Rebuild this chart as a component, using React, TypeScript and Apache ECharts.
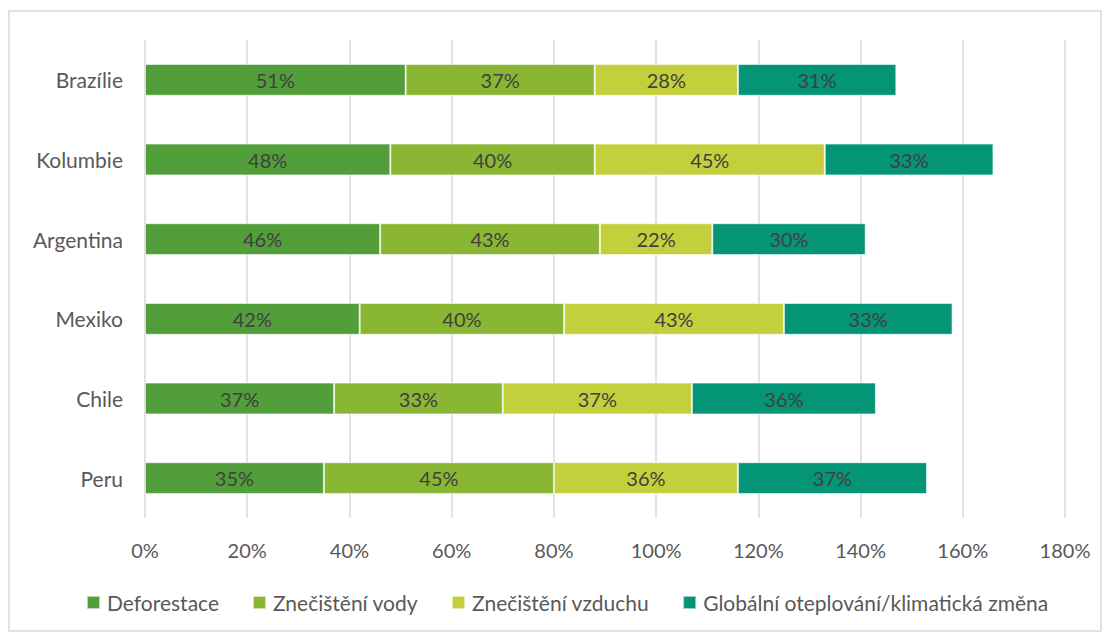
import React, { useEffect, useRef } from "react";
import * as echarts from "echarts";

const categories = ["Peru", "Chile", "Mexiko", "Argentina", "Kolumbie", "Brazílie"];
const seriesNames = ["Deforestace", "Znečištění vody", "Znečištění vzduchu", "Globální oteplování/klimatická změna"];
const deforestace = [35, 37, 42, 46, 48, 51];
const voda = [45, 33, 40, 43, 40, 37];
const vzduch = [36, 37, 43, 22, 45, 28];
const globalni = [37, 36, 33, 30, 33, 31];
const colors = ["#529E3A", "#8AB733", "#C3D03B", "#039575"];
const xTicks = { min: 0, max: 180, interval: 20 };

const FONT = "Lato";

export default function App() {
  const ref = useRef<HTMLDivElement>(null);
  useEffect(() => {
    const chart = echarts.init(ref.current!, null, { renderer: "svg" });
    const data = [deforestace, voda, vzduch, globalni];
    chart.setOption({
      animation: false,
      textStyle: { fontFamily: FONT },
      graphic: [
        {
          type: "rect",
          shape: { x: 9, y: 11, width: 1092, height: 620 },
          style: { fill: "none", stroke: "#D9D9D9", lineWidth: 1.5 },
          silent: true,
        },
      ],
      grid: { left: 145, right: 45, top: 40, bottom: 117, containLabel: false },
      legend: {
        bottom: 17,
        left: 81,
        itemWidth: 13,
        itemHeight: 13,
        itemGap: 33,
        icon: "rect",
        textStyle: { fontSize: 21, color: "#595959", fontFamily: FONT, padding: [0, 0, 0, 2] },
        data: seriesNames,
      },
      xAxis: {
        type: "value",
        min: xTicks.min,
        max: xTicks.max,
        interval: xTicks.interval,
        axisLine: { show: false },
        axisTick: { show: false },
        axisLabel: { formatter: "{value}%", fontSize: 20, color: "#595959", margin: 22, fontFamily: FONT },
        splitLine: { show: true, lineStyle: { color: "#D9D9D9", width: 1.5 } },
      },
      yAxis: {
        type: "category",
        data: categories,
        axisLine: { show: false },
        axisTick: { show: false },
        axisLabel: { fontSize: 21, color: "#595959", margin: 22, fontFamily: FONT },
      },
      series: seriesNames.map((name, i) => ({
        name,
        type: "bar",
        stack: "total",
        barWidth: "40%",
        data: data[i],
        itemStyle: { color: colors[i], borderColor: "rgba(255,255,255,0.6)", borderWidth: 1 },
        label: {
          show: true,
          position: "inside",
          formatter: "{c}%",
          fontSize: 20,
          color: "#404040",
          fontFamily: FONT,
        },
      })),
    });
    return () => chart.dispose();
  }, []);
  return <div ref={ref} style={{ position: "absolute", left: 0, top: 0, width: 1110, height: 635 }} />;
}
